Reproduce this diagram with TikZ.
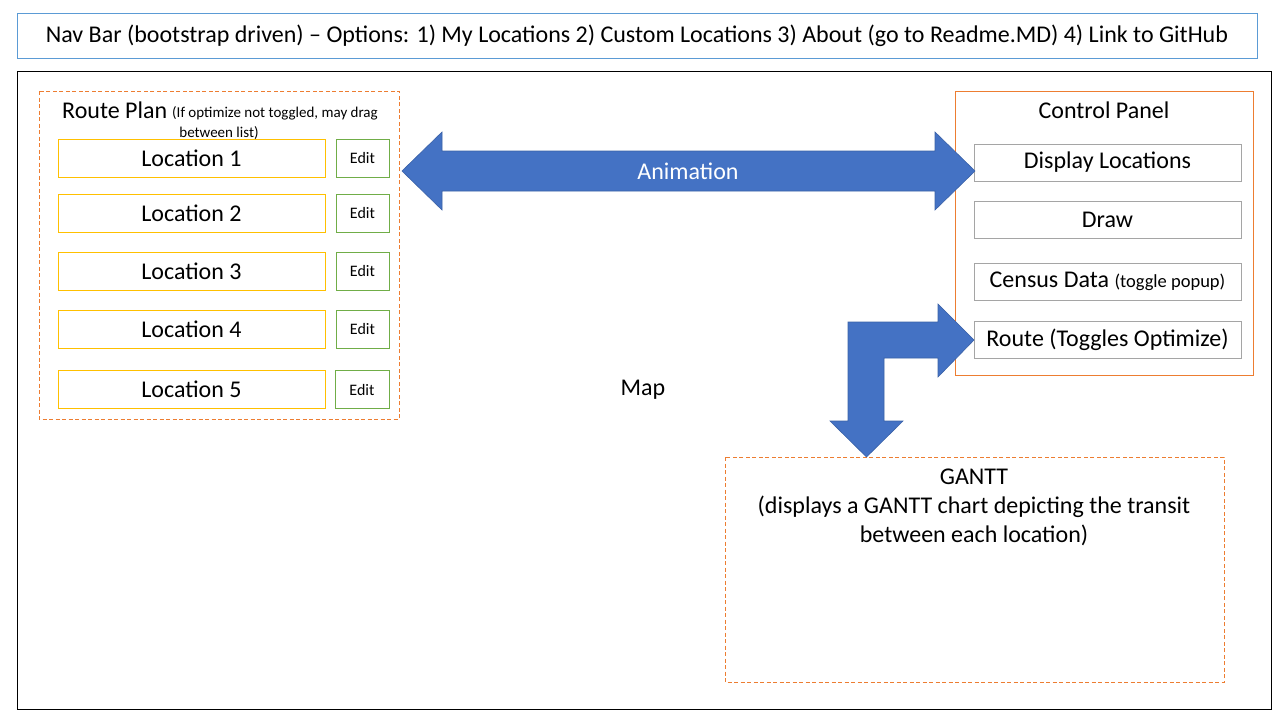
\documentclass[tikz,border=0pt]{standalone}
\usepackage{fontspec}
\setmainfont{Carlito}
\usetikzlibrary{positioning}
\definecolor{navblue}{HTML}{5B9BD5}
\definecolor{panelorange}{HTML}{ED7D31}
\definecolor{locgold}{HTML}{FFC000}
\definecolor{editgreen}{HTML}{70AD47}
\definecolor{arrowblue}{HTML}{4472C4}
\definecolor{boxgray}{HTML}{A5A5A5}
\tikzset{
     bigtext/.style={font=\fontsize{24}{29}\selectfont},
     smalltext/.style={font=\fontsize{15}{17}\selectfont},
     locbox/.style={draw=locgold,line width=1pt,minimum width=267pt,minimum height=38pt,bigtext},
     editbox/.style={draw=editgreen,line width=1pt,minimum width=53pt,minimum height=38pt,font=\fontsize{16}{19}\selectfont},
     ctrlbox/.style={draw=boxgray,line width=1pt,minimum width=267pt,minimum height=37pt,bigtext},
     dashbox/.style={draw=panelorange,line width=1pt,dash pattern=on 4pt off 2.5pt},
     bigarrow/.style={fill=arrowblue,draw=arrowblue!85!black,line width=0.6pt}
     }

\begin{document}
\begin{tikzpicture}[x=1pt,y=-1pt]
            \fill[white] (0,0) rectangle (1280,720);
            \useasboundingbox (0,0) rectangle (1280,720);
            % Place nodes
            \node[draw=navblue,line width=1pt,minimum width=1240pt,minimum height=45pt,font=\fontsize{24}{29}\selectfont] (nav) at (637,35.5) {Nav Bar (bootstrap driven) – Options: 1) My Locations 2) Custom Locations 3) About (go to Readme.MD) 4) Link to GitHub};
            \draw[line width=1pt] (17,71) rectangle (1271,709);
            \node[bigtext] (map) at (643,390) {Map};
            % route plan
            \draw[dashbox] (39,91) rectangle (399,419);
            \node[bigtext,anchor=west,inner sep=0pt] (plan) at (62,110) {Route Plan};
            \node[smalltext,anchor=west,inner sep=0pt] (plannote) at (172,113) {(If optimize not toggled, may drag};
            \node[smalltext,inner sep=0pt] (plannote2) at (219,133) {between list)};
            \node[locbox] (loc1) at (191.5,158) {Location 1};
            \node[locbox] (loc2) at (191.5,213.5) {Location 2};
            \node[locbox] (loc3) at (191.5,271) {Location 3};
            \node[locbox] (loc4) at (191.5,329) {Location 4};
            \node[locbox] (loc5) at (191.5,389.5) {Location 5};
            \node[editbox] (edit1) at (362.5,158) {Edit};
            \node[editbox] (edit2) at (362.5,213.5) {Edit};
            \node[editbox] (edit3) at (362.5,271) {Edit};
            \node[editbox] (edit4) at (362.5,329) {Edit};
            \node[editbox,minimum width=54pt] (edit5) at (362,389.5) {Edit};
            % control panel
            \draw[draw=panelorange,line width=1pt] (955,91) rectangle (1253,375);
            \node[bigtext] (panel) at (1104,110) {Control Panel};
            \node[ctrlbox] (display) at (1107.5,162.5) {Display Locations};
            \node[ctrlbox] (drawbtn) at (1107.5,219.5) {Draw};
            \node[ctrlbox] (census) at (1107.5,281.5) {Census Data {\fontsize{18.5}{20}\selectfont(toggle popup)}};
            \node[ctrlbox] (route) at (1107.5,339.5) {Route (Toggles Optimize)};
            % gantt
            \draw[dashbox] (725,457) rectangle (1224,682);
            \node[bigtext,align=center,anchor=north] (gantt) at (974,465) {GANTT\\(displays a GANTT chart depicting the transit\\between each location)};
            % Draw arrows
            \draw[bigarrow] (402,171) -- (442,132) -- (442,151) -- (935,151) -- (935,132) -- (975,171) -- (935,210) -- (935,191) -- (442,191) -- (442,210) -- cycle;
            \node[bigtext,text=white] (anim) at (688,171) {Animation};
            \draw[bigarrow] (974,340) -- (938,304) -- (938,322) -- (848,322) -- (848,421) -- (830,421) -- (866.5,457) -- (903,421) -- (884,421) -- (884,358) -- (938,358) -- (938,377) -- cycle;
        \end{tikzpicture}
\end{document}
